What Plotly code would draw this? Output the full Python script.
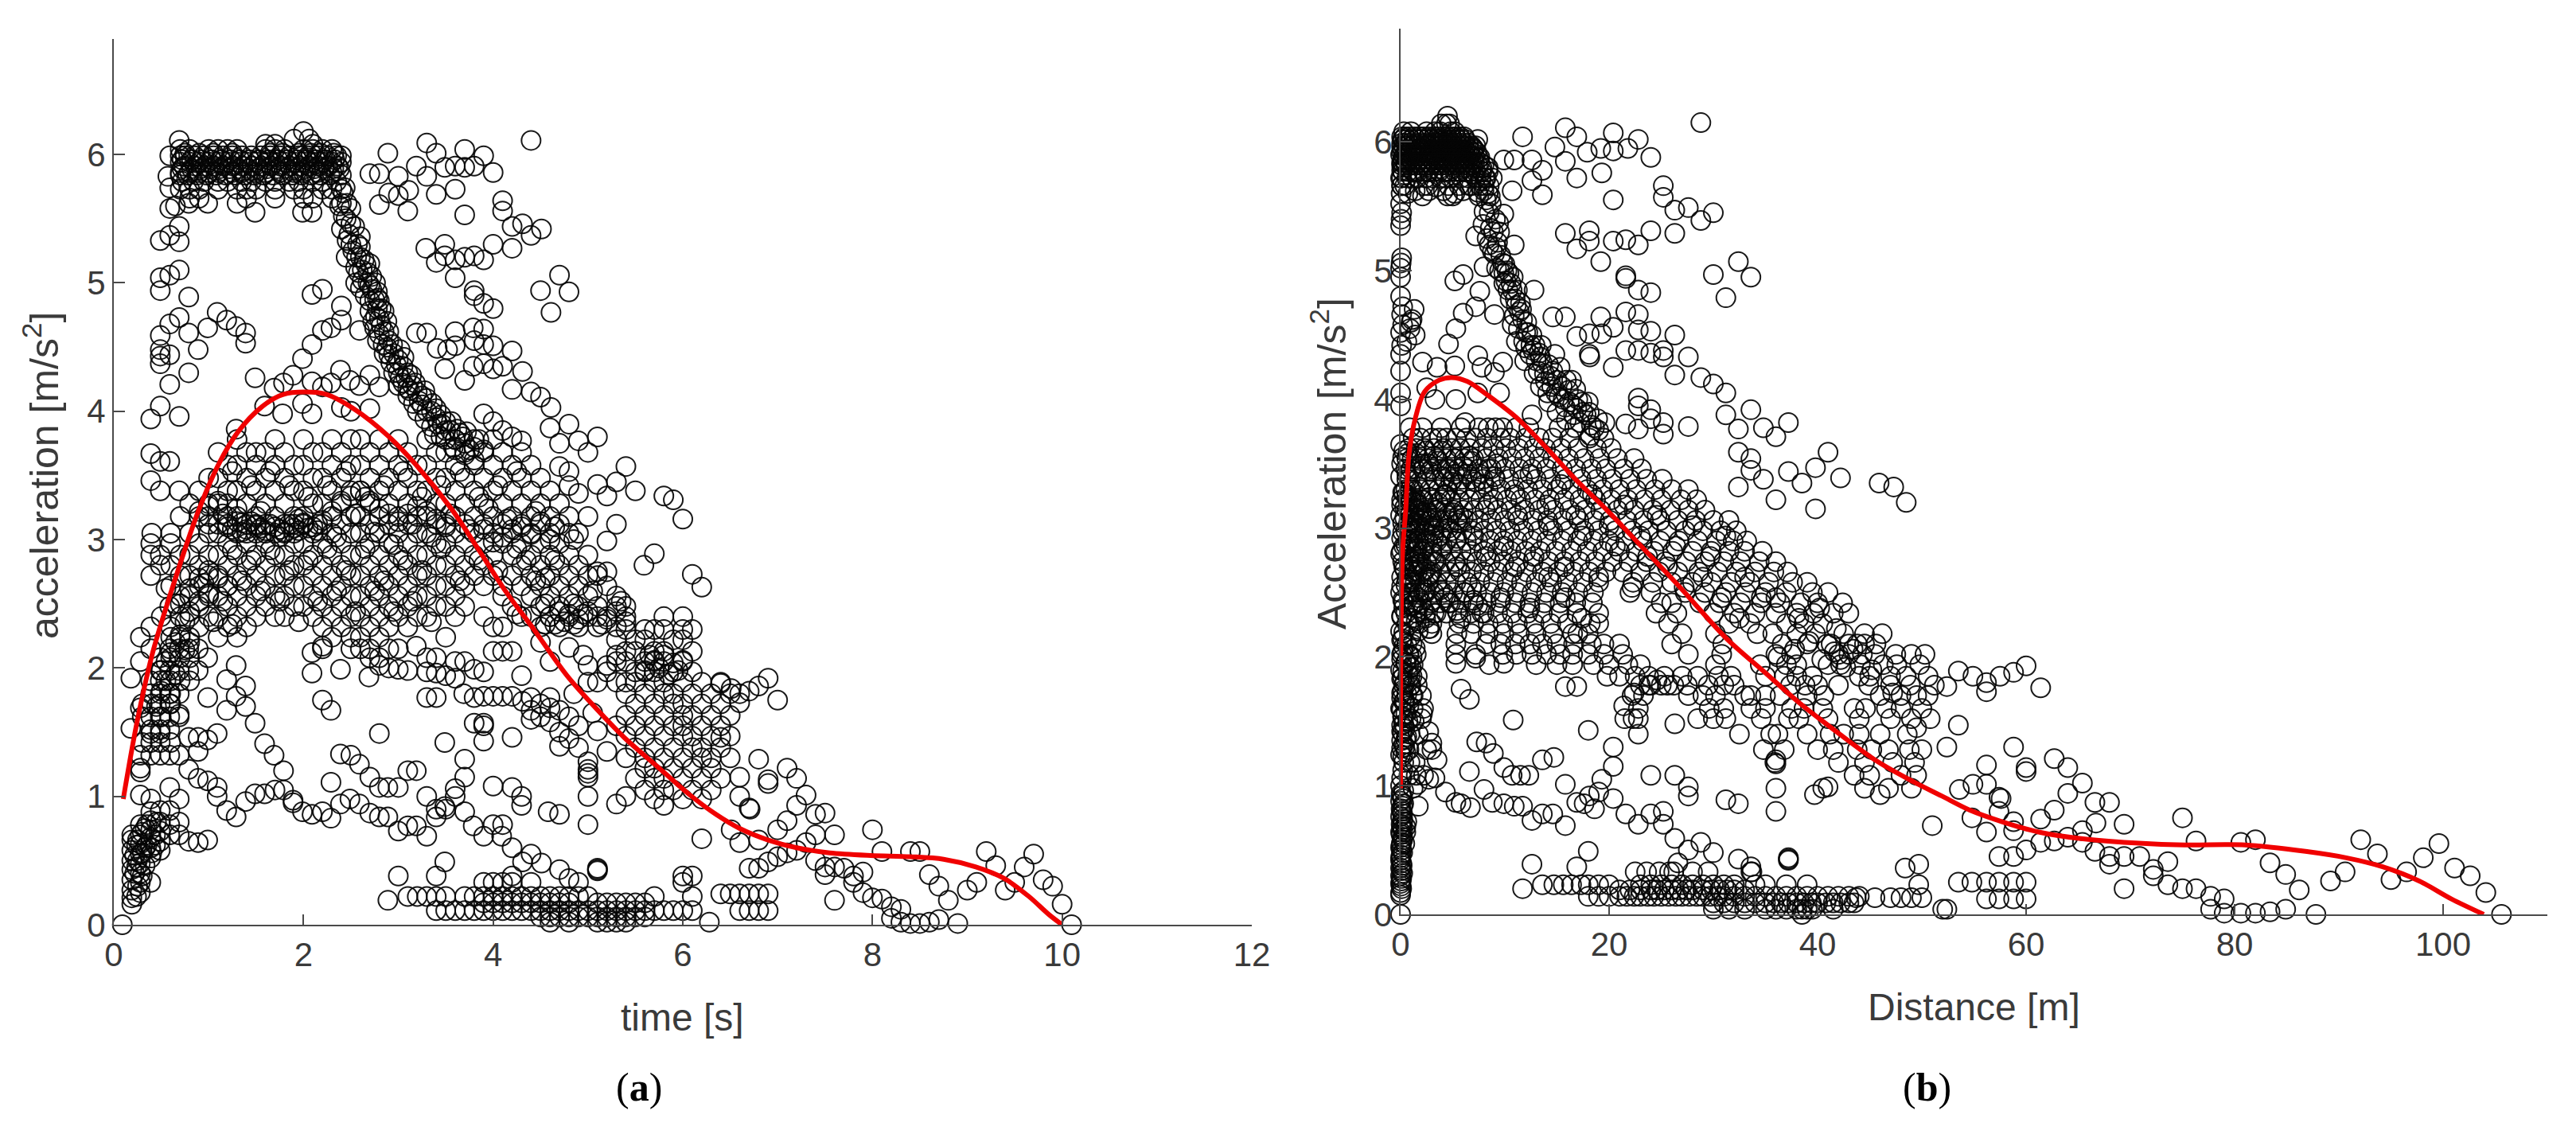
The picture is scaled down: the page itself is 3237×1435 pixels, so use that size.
import plotly.graph_objects as go

W, H = 3237, 1435

# ---------- panel (a): time [s] vs acceleration ----------
a_curve_t = [.1,.24,.41,.62,.88,1.1,1.31,1.57,1.78,2.02,2.25,2.55,2.89,3.19,3.56,3.84,4.13,4.43,4.78,5.08,5.38,5.72,6.06,6.35,6.6,6.9,7.2,7.55,7.98,8.4,8.75,9.09,9.39,9.65,9.86,10.0]
a_curve_y = [.98,1.56,2.12,2.63,3.2,3.58,3.84,4.04,4.13,4.15,4.13,4.01,3.81,3.58,3.24,2.93,2.6,2.3,1.94,1.69,1.46,1.24,1.02,.86,.75,.66,.6,.56,.54,.53,.51,.45,.36,.22,.08,0]

a_upper = [(.69,6.11),(.59,5.99),(.57,5.83),(.59,5.74),(.59,5.58),(.65,5.6),(.69,5.44),(.49,5.33),(.59,5.37),(.69,5.32),(.49,5.04),(.59,5.06),(.69,5.1),(.49,4.94),(.79,4.89),(.69,4.73),(.59,4.68),(.49,4.59),(.79,4.61),(.99,4.65),(1.09,4.77),(1.19,4.71),(1.29,4.66),(1.39,4.61),(1.39,4.53),(.89,4.48),(.49,4.48),(.59,4.44),(.49,4.43),(.49,4.37),(.79,4.3),(.59,4.21),(.49,4.04),(.39,3.94),(.69,3.96),(.39,3.67),(.49,3.61),(.59,3.61),(.39,3.46),(.49,3.38),(.69,3.38),
(2.4,5.99),(2.89,6.01),(3.3,6.09),(3.4,6.01),(3.19,5.91),(3.3,5.83),(3.49,5.9),(3.6,5.91),(3.7,6.04),(3.7,5.9),(3.8,5.91),(3.9,5.99),(4.0,5.86),(4.4,6.11),(2.7,5.85),(2.8,5.85),(3.0,5.83),(3.11,5.72),(3.0,5.68),(2.9,5.7),(2.8,5.61),(3.1,5.56),(3.4,5.69),(3.6,5.73),(3.7,5.53),(4.1,5.64),(4.1,5.56),(4.2,5.44),(4.31,5.46),(4.4,5.37),(4.51,5.42),(3.29,5.27),(3.49,5.3),(3.49,5.21),(3.4,5.16),(3.6,5.18),(3.7,5.2),(3.8,5.21),(3.9,5.18),(4.0,5.3),(4.2,5.27),(3.6,5.04),(3.8,4.94),(3.8,4.9),(3.9,4.84),(4.0,4.8),(4.7,5.06),(4.5,4.94),(4.8,4.93),(4.61,4.77),
(2.09,4.91),(2.2,4.95),(2.4,4.82),(2.59,4.63),(2.4,4.71),(2.29,4.65),(2.2,4.63),(2.09,4.52),(1.99,4.41),(1.49,4.26),(1.89,4.28),(1.79,4.22),(1.69,4.18),(1.59,4.04),(1.78,3.98),(1.99,4.06),(2.09,3.98),(2.09,4.23),(2.2,4.19),(2.29,4.22),(2.39,4.32),(2.49,4.24),(2.59,4.2),(2.7,4.28),(2.8,4.19),(2.4,4.03),(2.5,4.0),(2.7,4.02),(1.29,3.86),
(3.19,4.61),(3.3,4.61),(3.6,4.62),(3.79,4.65),(3.9,4.64),(3.41,4.49),(3.52,4.48),(3.6,4.51),(3.8,4.55),(3.9,4.52),(4.0,4.51),(4.2,4.47),(3.49,4.33),(3.7,4.24),(3.79,4.35),(3.9,4.37),(4.0,4.33),(4.1,4.35),(4.31,4.31),(4.2,4.17),(4.4,4.15),(4.5,4.11),(4.61,4.03),(3.9,3.98),(4.0,3.92),(4.1,3.85),(4.2,3.8),(4.3,3.77),(4.6,3.87),(4.8,3.9),(4.7,3.75),(4.9,3.77),(5.1,3.8),(5.0,3.68),(4.7,3.57),(4.8,3.53),(5.4,3.57),(5.3,3.45),(5.1,3.43),(5.5,3.38),(5.2,3.34),(4.9,3.36),(4.8,3.42),(5.8,3.34),(5.9,3.31)]

a_band = [(2.42,5.7),(2.38,5.6),(2.45,5.5),(2.4,5.42),(2.48,5.38),(2.52,5.25),(2.6,5.2),(2.45,5.2),(2.55,5.12),(2.62,5.1),(2.68,5.0),(2.55,5.0),(2.72,4.95),(2.65,4.9),(2.75,4.87),(2.78,4.8),(2.7,4.78),(2.85,4.78),(2.8,4.72),(2.75,4.65),(2.85,4.62),(2.78,4.55),(2.9,4.55),(2.95,4.45),(2.85,4.45),(3.0,4.4),(3.05,4.35),(2.95,4.3),(3.1,4.3),(3.05,4.22),(3.15,4.2),(3.0,4.2),(3.2,4.15),(3.1,4.12),(3.3,4.1),(3.25,4.05),(3.35,4.0),(3.2,4.0),(3.4,3.95),(3.5,3.92),(3.35,3.88),(3.55,3.85),(3.45,3.8),(3.6,3.78),(3.7,3.75),(3.6,3.7),
(2.46,5.62),(2.5,5.46),(2.5,5.3),(2.57,5.3),(2.62,5.02),(2.66,5.14),(2.72,5.05),(2.78,4.93),(2.8,4.86),(2.73,4.7),(2.82,4.67),(2.88,4.5),(2.92,4.38),(3.0,4.3),(3.08,4.26),(3.12,4.16),(3.25,4.12),(3.3,4.0),(3.42,3.9),(3.5,3.85),(3.65,3.83),(3.75,3.7),(3.45,3.97),(2.6,5.36),(2.7,5.15),
(2.44,5.74),(2.5,5.58),(2.42,5.52),(2.54,5.44),(2.46,5.33),(2.56,5.2),(2.6,5.28),(2.64,5.18),(2.58,5.08),(2.68,5.08),(2.7,4.98),(2.76,5.0),(2.6,4.96),(2.78,4.88),(2.7,4.86),(2.82,4.8),(2.76,4.74),(2.88,4.7),(2.8,4.6),(2.9,4.62),(2.84,4.52),(2.94,4.52),(2.9,4.44),(3.02,4.48),(2.98,4.36),(3.06,4.42),(3.14,4.28),(3.02,4.26),(3.18,4.22),(3.1,4.18),(3.22,4.08),(3.28,4.16),(3.16,4.06),(3.36,4.06),(3.28,3.94),(3.4,4.02),(3.46,3.9),(3.38,3.82),(3.56,3.92),(3.5,3.78),(3.62,3.86),(3.68,3.8),(3.58,3.72),(3.72,3.84),(3.8,3.72),(3.85,3.78),(3.7,3.66),(3.9,3.7),(3.8,3.62)]

a_top_rows = [(6.18,[2.0]),(6.12,[1.9,2.06]),(6.08,[1.6,1.7,2.1]),
 (6.04,[.7,.8,1.0,1.1,1.2,1.3,1.6,1.7,1.8,2.0,2.1,2.2,2.3]),
 (6.01,[.75,.9,1.05,1.25,1.65,1.78,1.95,2.08,2.18,2.32]),
 (5.99,[.7,.75,.85,.95,1.05,1.15,1.25,1.35,1.45,1.55,1.65,1.75,1.85,1.95,2.05,2.15,2.25,2.35]),
 (5.96,[.72,.82,.92,1.03,1.13,1.23,1.33,1.43,1.53,1.63,1.73,1.83,1.93,2.03,2.13,2.23,2.33]),
 (5.94,[.7,.8,.9,1.0,1.1,1.2,1.3,1.4,1.5,1.6,1.7,1.8,1.9,2.0,2.1,2.2,2.3,2.4]),
 (5.91,[.74,.86,.96,1.06,1.16,1.26,1.36,1.46,1.56,1.66,1.76,1.86,1.96,2.06,2.16,2.26,2.36]),
 (5.89,[.72,.82,.92,1.02,1.12,1.22,1.32,1.42,1.52,1.62,1.72,1.82,1.92,2.02,2.12,2.22,2.32,2.38]),
 (5.86,[.7,.8,.9,1.0,1.1,1.25,1.35,1.5,1.6,1.75,1.9,2.0,2.15,2.3]),
 (5.84,[.7,.78,.88,.98,1.08,1.18,1.28,1.38,1.48,1.58,1.68,1.78,1.88,1.98,2.08,2.18,2.28,2.4]),
 (5.79,[.72,.84,.95,1.1,1.2,1.35,1.45,1.6,1.7,1.85,1.95,2.1,2.2,2.35]),
 (5.73,[.7,.8,.9,1.1,1.3,1.4,1.5,1.7,1.9,2.0,2.2,2.3,2.4]),
 (5.66,[.8,.9,1.4,1.7,2.0,2.1,2.3]),(5.62,[.79,.99,1.3,2.4]),(5.55,[1.49,1.99,2.09])]

a_mid_rows = [(3.78,[1.3,1.7,2.0,2.3,2.5,2.6,2.8,3.0,3.3,3.6,3.8,4.0]),
 (3.68,[1.1,1.4,1.5,1.6,1.8,2.1,2.2,2.4,2.7,2.9,3.1,3.4,3.5,3.7,3.9,4.1,4.3]),
 (3.58,[1.2,1.3,1.5,1.7,1.9,2.0,2.3,2.5,2.6,2.8,3.0,3.2,3.3,3.6,3.8,4.0,4.2,4.4]),
 (3.48,[1.0,1.1,1.4,1.6,1.8,2.1,2.2,2.4,2.7,2.9,3.1,3.4,3.5,3.7,3.9,4.1,4.3,4.5]),
 (3.38,[.9,1.2,1.3,1.5,1.7,1.9,2.0,2.3,2.5,2.6,2.8,3.0,3.2,3.3,3.6,3.8,4.0,4.2,4.4,4.6]),
 (3.28,[.8,1.0,1.1,1.4,1.6,1.8,2.1,2.2,2.4,2.7,2.9,3.1,3.4,3.5,3.7,3.9,4.1,4.3,4.5,4.7]),
 (3.18,[.7,.9,1.0,1.2,1.3,1.5,1.7,1.9,2.0,2.3,2.5,2.6,2.8,3.0,3.2,3.3,3.6,3.8,4.0,4.2,4.4,4.6,4.8]),
 (3.12,[1.0,1.1,1.2,1.4,1.5,1.6,1.8,1.9,2.0,2.2,2.4,2.7,2.9,3.1,3.4,3.5,3.7,3.9,4.1,4.3,4.5,4.7]),
 (3.05,[.4,.6,.8,1.0,1.1,1.3,1.4,1.5,1.6,1.7,1.8,1.9,2.1,2.3,2.5,2.6,2.8,3.0,3.2,3.3,3.6,3.8,4.0,4.2,4.4,4.6,4.8,4.9]),
 (2.97,[.39,.6,.9,1.2,1.4,1.6,1.9,2.0,2.2,2.4,2.7,2.9,3.1,3.4,3.5,3.7,3.9,4.1,4.3,4.5,4.7]),
 (2.88,[.39,.49,.7,.8,1.0,1.1,1.3,1.5,1.7,1.8,2.1,2.3,2.5,2.6,2.8,3.0,3.2,3.3,3.6,3.8,4.0,4.2,4.4,4.6,4.8,5.0]),
 (2.8,[.49,.6,.9,1.2,1.4,1.6,1.9,2.0,2.2,2.4,2.7,2.9,3.1,3.4,3.5,3.7,3.9,4.3,4.5,4.7,4.9]),
 (2.72,[.39,.7,.8,1.0,1.1,1.3,1.5,1.7,1.8,2.1,2.3,2.5,2.6,2.8,3.0,3.2,3.3,3.6,3.8,4.0,4.2,4.4,4.6,4.8,5.0,5.1]),
 (2.64,[.6,.9,1.2,1.4,1.6,1.9,2.0,2.2,2.4,2.7,2.9,3.1,3.4,3.5,3.7,3.9,4.1,4.3,4.5,4.7,4.9,5.2]),
 (2.56,[.7,.8,1.0,1.1,1.3,1.5,1.7,1.8,2.1,2.3,2.5,2.6,2.8,3.0,3.2,3.3,3.6,4.1,4.4,4.6,4.8,5.0,5.3]),
 (2.48,[.59,.9,1.2,1.4,1.6,1.9,2.0,2.2,2.4,2.7,2.9,3.1,3.4,3.5,3.7,4.2,4.5,4.7,4.9,5.1,5.3,5.4]),
 (2.4,[.5,.7,.8,1.0,1.1,1.3,1.5,1.7,1.8,2.1,2.3,2.5,2.6,2.8,3.0,3.2,3.3,3.6,3.9,4.3,4.4,4.6,4.8,5.0,5.2,5.4]),
 (2.32,[.39,.6,.9,1.2,1.4,2.2,2.4,2.7,2.9,3.1,4.0,4.1,4.5,4.7,4.9,5.1,5.3]),
 (2.24,[.28,.6,.7,.8,1.1,1.3,2.3,2.5,2.6,2.8,3.5]),
 (2.15,[.39,.59,.69,.79,.89,2.2,2.5,2.6,2.7,2.9,3.0]),
 (2.08,[.49,.6,.7,.8,.99,2.7,2.8,3.3,3.4]),
 (1.98,[.49,.59,.69,.79,.89]),(1.9,[.39,.49,.6,.7,.8]),(1.8,[.39,.49,.59,.69]),(1.72,[.3,.4,.49,.6]),(1.62,[.3,.39,.49,.59,.69]),
 (1.52,[.39,.49,.59]),(1.42,[.3,.39,.49,.6]),(1.32,[.28,.39,.49,.59])]

# extra hand-read circles in the dense middle, off the rows above
a_mid_extra = [(1.15,3.2),(1.35,3.13),(1.55,3.22),(1.75,3.02),(1.95,3.16),(2.15,3.07),(1.25,2.92),(1.45,2.84),(1.65,2.92),(1.85,2.76),(2.05,2.84),(2.25,2.93),(2.45,2.76),(2.65,2.93),(2.85,2.68),(3.05,2.84),(3.25,2.76),(3.45,2.93),(3.65,2.68),(3.85,2.84),(4.05,2.76),(4.25,2.93),(4.45,2.68),(4.65,2.84),(4.85,2.5),(.95,2.66),(1.15,2.52),(1.35,2.68),(1.55,2.6),(1.75,2.52),(1.95,2.36),(2.15,2.52),(2.35,2.6),(2.55,2.44),(2.75,2.6),(2.95,2.44),(3.15,2.52),(3.35,2.36),(.75,2.36),(.65,2.5),(.55,2.62),(1.05,2.36),(1.25,2.34),
 (1.25,3.53),(1.45,3.42),(1.65,3.53),(1.85,3.42),(2.05,3.33),(2.25,3.42),(2.45,3.53),(2.65,3.33),(2.85,3.42),(3.05,3.53),(3.25,3.33),(3.45,3.42),(3.65,3.53),(3.85,3.33),(4.05,3.42),(4.25,3.53),(4.45,3.22),(4.15,3.16),(3.95,3.24),(3.75,3.08),(3.55,3.2),(3.35,3.02),(3.15,3.12),(2.95,2.96),(2.75,3.06),(2.55,3.2),(2.35,3.02),
 (4.35,2.84),(4.55,2.5),(4.75,2.36),(4.95,2.42),(5.15,2.34),(5.35,2.52),(5.05,2.6),(4.25,2.42),(4.55,2.7),(4.85,3.0),(4.65,3.1)]

# dark streaks inside the dense middle
a_dark = [(1.2,3.1),(1.3,3.14),(1.4,3.08),(1.5,3.11),(1.6,3.07),(1.7,3.1),(1.8,3.06),(1.9,3.09),(2.0,3.13),(2.1,3.1),(2.2,3.15),(1.25,3.08),(1.35,3.06),(1.45,3.14),(1.55,3.09),(1.65,3.12),(1.75,3.08),(1.85,3.12),(1.95,3.07),(2.05,3.09),(2.15,3.12),
 (.9,3.22),(1.0,3.26),(1.1,3.3),(1.2,3.28),(1.3,3.24),(2.3,3.22),(2.4,3.3),(2.5,3.34),(2.6,3.38),(2.7,3.3),(2.8,3.24),(2.9,3.2),(3.0,3.14),(3.1,3.2),(3.2,3.26),(3.3,3.22),(3.4,3.16),(3.5,3.1),
 (.8,2.62),(.9,2.7),(1.0,2.76),(1.1,2.7),(1.2,2.64),(.7,2.5),(.8,2.44),(.9,2.52),(1.0,2.58),
 (.5,1.98),(.55,2.05),(.6,2.12),(.65,2.2),(.7,2.26),(.75,2.14),(.8,2.2),(.5,1.82),(.55,1.9),(.45,1.7),(.5,1.62),(.6,1.8),(.65,1.95),
 (4.3,3.1),(4.4,3.04),(4.5,3.14),(4.6,3.0),(4.0,2.98),(4.1,3.02),(4.2,3.08),(3.9,3.08),
 (4.6,2.4),(4.7,2.44),(4.8,2.42),(4.9,2.38),(5.0,2.44),(5.1,2.4),(5.2,2.38),(5.3,2.44),(5.4,2.36),(4.55,2.34),(4.65,2.34),(4.85,2.34),
 (5.7,2.06),(5.75,2.0),(5.8,2.1),(5.85,1.95),(5.9,2.04),(5.95,1.98),(6.0,2.06),(5.6,1.98),(5.65,2.1),
 (.25,.5),(.3,.56),(.35,.62),(.25,.66),(.3,.72),(.35,.78),(.25,.3),(.3,.38),(.24,.22),(.33,.46),(.4,.56),(.45,.8),(.44,.62),(.22,.4),(.22,.54)]

a_lobe_rows = [(2.3,[5.4,5.6,5.7,5.8,6.0,6.1]),(2.22,[5.3,5.5,5.6,5.9,6.0]),(2.13,[5.4,5.5,5.7,5.8,6.1]),
 (2.05,[5.3,5.4,5.6,5.7,5.8,6.0]),(1.97,[5.2,5.5,5.6,5.7,5.9,6.1]),(1.89,[5.3,5.4,5.5,5.7,5.8,6.0,6.2,6.4]),
 (1.8,[5.4,5.6,5.8,5.9,6.1,6.3,6.5,6.6]),(1.72,[5.5,5.7,5.9,6.0,6.2,6.4]),(1.63,[5.4,5.6,5.8,6.0,6.1,6.3,6.5]),
 (1.55,[5.3,5.5,5.7,5.9,6.0,6.2,6.4]),(1.47,[5.4,5.6,5.8,6.0,6.1,6.3,6.5]),(1.38,[5.5,5.7,5.9,6.1,6.2,6.4]),
 (1.3,[5.4,5.6,5.8,6.0,6.2,6.3,6.5]),(1.22,[5.6,5.7,5.9,6.1,6.3]),(1.14,[5.5,5.7,5.8,6.0,6.2,6.4]),(1.05,[5.6,5.8,5.9,6.1,6.3]),(.98,[5.7,6.0,6.2])]

a_lower = [(.09,0),(.19,.16),(.19,.21),(.19,.27),(.19,.35),(.19,.43),(.19,.5),(.19,.58),(.19,.66),(.19,.7),(.28,.25),(.28,.33),(.28,.4),(.28,.48),(.28,.55),(.28,.63),(.28,.7),(.28,.78),(.39,.33),(.39,.52),(.39,.6),(.39,.68),(.39,.74),(.39,.81),(.39,.88),(.49,.58),(.49,.65),(.49,.73),(.49,.8),(.49,.89),(.59,.7),(.59,.78),(.59,.89),(.69,.98),(.69,.8),(.28,1.01),(.39,.98),(.59,1.07),(.24,.45),(.33,.6),(.33,.75),(.24,.62),(.44,.7),
 (.69,.7),(.79,.65),(.89,.64),(.99,.66),
 (.79,1.21),(.89,1.14),(.99,1.12),(1.09,1.07),(1.09,1.0),(1.19,.89),(1.29,.84),(1.39,.96),(1.49,1.02),(1.59,1.02),(1.7,1.05),(1.79,1.05),(1.89,.97),(1.89,.95),(1.99,.88),(2.09,.86),(2.2,.88),(2.29,.83),(2.39,.94),(2.49,.98),(2.59,.94),(2.7,.87),(2.8,.84),(2.89,.84),(3.0,.73),(3.1,.77),(3.19,.77),(3.3,.69),(3.4,.84),(3.49,.92),(3.5,.9),(3.7,.88),(3.79,.77),(3.9,.69),(4.0,.78),(4.1,.78),(4.09,.69),(4.2,.6),(4.31,.49),(4.4,.55),(4.51,.48),(4.7,.43),(4.8,.36),
 (1.49,1.57),(1.59,1.41),(1.69,1.32),(1.79,1.2),(1.39,1.7),(1.19,1.67),(1.29,1.78),(1.39,1.86),(1.19,1.91),(1.29,2.02),(.99,1.77),(1.09,1.49),(.99,1.44),(.89,1.46),(.79,1.46),(.89,1.35),(.69,1.32),(.28,1.19),(.28,1.22),(.39,1.49),(.49,1.49),(.69,1.64),(.59,1.72),(.18,1.53),(.18,1.92),(.28,2.05),(.28,1.69),
 (2.29,1.67),(2.2,1.75),(2.8,1.49),(2.39,1.33),(2.5,1.32),(2.59,1.25),(2.7,1.15),(2.8,1.07),(2.89,1.07),(3.0,1.07),(3.1,1.2),(3.19,1.2),(2.29,1.11),(3.3,1.0),(3.49,1.42),(3.7,1.29),(3.7,1.15),(3.6,1.06),(3.6,1.0),(3.4,.9),(4.0,1.08),(4.2,1.07),(4.3,1.0),(4.3,.93),(4.58,.88),(4.7,.86),(5.0,.78),(5.0,1.0),(5.0,1.15),(5.0,1.21),(5.0,1.18),(5.1,.43),(5.1,.42),(5.1,.44),(5.4,1.0),(5.3,.94),(5.8,.93),(6.2,.67),
 (2.09,1.96),(2.39,1.99),(2.09,2.12),(2.2,2.17),(2.69,1.93),(2.8,2.02),(2.9,2.0),(3.0,1.99),(3.1,1.98),(3.19,2.17),(3.3,1.97),(3.4,1.96),(3.5,1.94),(3.6,2.05),(3.7,2.05),(3.8,1.99),(3.9,1.97),(4.0,2.13),(4.1,2.13),(4.2,2.13),(4.3,1.94),(3.3,1.77),(3.4,1.77),(3.6,1.92),(3.69,1.8),(3.8,1.77),(3.9,1.78),(4.0,1.78),(4.1,1.78),(4.2,1.78),(4.31,1.74),(4.4,1.67),(4.5,1.62),(4.6,1.77),(4.6,1.69),(4.7,1.67),(4.8,1.62),(3.8,1.57),(3.9,1.57),(3.9,1.55),(3.9,1.43),(4.2,1.46),(4.7,1.39),(4.9,1.38),(5.0,1.27),(4.8,1.45),(5.1,1.51),(5.2,1.35),(4.6,2.05),(4.5,2.2),(4.8,2.16),(5.0,2.02),(5.2,2.02),(5.0,1.89),(5.1,1.89),(5.8,2.4),(6.0,2.4),(5.1,2.75),(5.2,2.75),(5.2,2.99),(5.3,3.12),(5.0,3.18),(5.59,2.8),(5.7,2.89),(6.1,2.73),(6.2,2.63),(6.0,3.16),
 (4.4,1.6),(4.5,1.72),(4.4,1.77),(4.6,1.58),(4.7,1.5),(4.9,1.55),(5.05,1.65),(4.85,1.8),(4.95,2.1),(5.3,2.1)]

a_tail = [(6.9,1.92),(7.0,1.75),(6.8,1.86),(6.7,1.82),(6.6,1.73),(6.51,1.84),(6.4,1.88),(6.4,1.46),(6.8,1.29),(7.1,1.22),(7.2,1.14),(6.9,1.13),(6.9,1.1),(7.3,1.01),(7.2,.93),(7.4,.86),(7.5,.87),(7.1,.81),(7.0,.74),(7.6,.7),(7.4,.7),(7.3,.64),(7.2,.58),(7.1,.56),(7.0,.53),(6.9,.49),(6.8,.44),(6.7,.44),(6.6,1.15),(6.7,.91),(6.71,.9),(6.6,1.0),(6.6,.64),(6.51,.74),(6.8,.66),(7.4,.5),(7.5,.45),(7.5,.39),(7.6,.45),(7.6,.19),(7.7,.44),(7.8,.38),(7.8,.33),(7.9,.41),(7.9,.25),(8.0,.74),(8.0,.21),(8.1,.57),(8.1,.2),(8.2,.14),(8.2,.05),(8.3,.02),(8.3,.12),(8.4,.57),(8.4,.01),(8.5,.57),(8.5,.01),(8.6,.39),(8.6,.02),(8.7,.3),(8.7,.04),(8.8,.19),(8.9,.01),(9.0,.27),(9.1,.33),(9.2,.57),(9.3,.46),(9.4,.27),(9.5,.33),(9.6,.45),(9.7,.55),(9.8,.35),(9.9,.3),(10.0,.16),(10.1,0)]

a_bottom_rows = [(.24,[6.4,6.5,6.6,6.7,6.8,6.9]),(.11,[6.6,6.7,6.8,6.9]),
 (.22,[3.1,3.2,3.3,3.4,3.5,3.7,3.8,3.9,4.0,4.1,4.2,4.3,4.4,4.5,4.6,4.7,4.8,4.9,5.0,5.7,6.1]),
 (.17,[3.9,4.0,4.1,4.2,4.3,4.4,4.5,4.6,4.7,4.8,5.1,5.2,5.3,5.4,5.5,5.6]),
 (.11,[3.4,3.5,3.6,3.7,3.8,3.9,4.0,4.1,4.2,4.3,4.4,4.5,4.6,4.7,4.8,4.9,5.0,5.1,5.2,5.3,5.4,5.5,5.6,5.7,5.8,5.9,6.0,6.1]),
 (.06,[4.5,4.6,4.7,4.8,4.9,5.0,5.1,5.2,5.3,5.4,5.5,5.6]),(.02,[4.6,4.8,5.1,5.2,5.3,5.4,6.28]),
 (.33,[3.9,4.0,4.1,4.2,4.4,4.9,6.0]),(.38,[3.0,3.4,4.2,6.0,6.1]),(.49,[3.49]),(.19,[2.89])]

# ---------- panel (b): distance [m] vs acceleration ----------
b_curve_x = [0,0,.04,.2,.5,.8,1.4,2.3,3.7,4.9,6.4,8.4,11.1,13.8,16.9,19.8,23.2,26.7,31.3,34.8,38.3,41.8,45.7,49.2,51.9,54.6,57.7,61.2,65.1,69.4,75.2,81,86.8,90.7,94.2,97.7,100.8,103.9]
b_curve_y = [.98,1.58,2.2,2.83,3.15,3.57,3.85,4.06,4.15,4.17,4.14,4.03,3.86,3.64,3.37,3.14,2.85,2.55,2.14,1.89,1.64,1.42,1.19,1.03,.92,.81,.72,.64,.59,.56,.54,.54,.49,.44,.37,.26,.12,0]

b_upper = [(28.8,6.15),(11.7,6.04),(15.8,6.11),(16.9,6.04),(20.4,6.07),(22.8,6.02),(21.8,5.95),(20.4,5.93),(19.2,5.95),(17.9,5.92),(14.8,5.96),(15.8,5.85),(24,5.88),(19.3,5.76),(16.9,5.72),(13.6,5.78),(12.6,5.86),(9.9,5.86),(10.9,5.86),(13.6,5.59),(12.6,5.7),(10.7,5.62),(20.4,5.55),(25.2,5.66),(25.2,5.57),(26.3,5.47),(27.6,5.49),(28.8,5.39),(30,5.45),(26.3,5.29),(24,5.31),(15.8,5.29),(18.1,5.31),(16.9,5.17),(18.1,5.23),(20.4,5.23),(21.6,5.24),(22.8,5.2),(19.2,5.07),(21.6,4.94),(21.6,4.96),(22.8,4.85),(24,4.83),(32.4,5.07),(30,4.97),(33.6,4.95),(31.2,4.79),
 (6,4.97),(5.2,4.92),(7.6,4.84),(7.2,4.72),(6,4.67),(5.3,4.55),(4.6,4.43),(9,4.66),(2.1,4.29),(3.5,4.25),(5.2,4.26),(7.4,4.34),(9.8,4.29),(9,4.21),(7.8,4.25),(2.5,4.09),(3.3,4.0),(5.3,4.0),(7.4,4.05),(9.5,4.05),(6.2,3.82),(12.6,3.88),(14.6,4.64),(15.8,4.64),(19.2,4.64),(21.6,4.68),(22.8,4.66),(16.9,4.49),(18.1,4.51),(19.3,4.51),(20.4,4.56),(22.8,4.54),(24,4.53),(26.3,4.5),(18.1,4.35),(18.15,4.33),(21.6,4.38),(22.8,4.38),(24,4.36),(25.2,4.38),(25.2,4.33),(20.4,4.25),(27.6,4.33),(26.3,4.19),(28.8,4.17),(30,4.12),(31.2,4.05),(31.2,3.88),(33.6,3.92),(32.4,3.77),(34.8,3.78),(36,3.71),(37.2,3.82),(27.6,3.79),(32.4,3.59),(33.6,3.54),(41,3.59),(39.8,3.47),(42.2,3.39),(37.2,3.44),(38.5,3.35),(34.8,3.38),(45.9,3.35),(47.3,3.32),(32.4,3.32),(33.6,3.45),(48.5,3.2),(39.8,3.15),(36,3.22),
 (22.8,4.01),(24,3.92),(25.2,3.82),(25.2,3.73),(22.8,3.77),(21.6,3.81),(22.8,3.95),(24,3.85)]

b_band = [(7.4,5.61),(8,5.46),(8.6,5.33),(7.2,5.27),(9,5.13),(9.9,5.44),(10.9,5.2),(8,5.03),(9.9,4.98),(10.3,4.85),(12.8,4.85),(11.1,4.73),(10.7,4.58),(11.8,4.45),(12.6,4.5),(13.4,4.33),(14.2,4.27),(15,4.15),(16.1,4.07),(16.5,3.96),(18.1,3.9),(18.9,3.85),
 (7.7,5.7),(8.2,5.55),(8.5,5.45),(8.9,5.3),(9.3,5.22),(9.6,5.12),(9.2,5.02),(10,5.05),(10.4,4.98),(10.6,4.9),(11.2,4.85),(11.5,4.75),(10.9,4.65),(11.7,4.62),(12.2,4.52),(12,4.4),(12.9,4.42),(13.2,4.22),(13.8,4.2),(14.5,4.1),(15.3,4.25),(15.6,4.0),(16.4,4.15),(17,4.0),(17.5,3.9),(17.2,3.82),(18.3,3.8),(13.5,4.42),(14.8,4.35),(9.5,5.3),(8.8,5.15),(9.9,4.9),(10.5,4.78),(11.3,4.55),(12.4,4.35),(14.1,4.05),(15.9,4.15),(16.8,4.08),(18,3.98),
 (8.0,5.62),(8.4,5.6),(8.7,5.52),(9.1,5.4),(9.4,5.37),(8.3,5.25),(9.5,5.0),(10.2,5.0),(10.8,4.95),(11.0,4.78),(11.6,4.7),(12.1,4.6),(12.5,4.42),(13.0,4.3),(13.6,4.28),(14.4,4.18),(14.9,4.05),(15.5,4.1),(16.2,3.98),(16.9,3.93),(17.8,3.88),(18.6,3.78),
 (7.9,5.36),(8.5,5.2),(9.2,5.18),(9.8,5.06),(10.1,4.92),(10.7,4.85),(11.4,4.68),(12.0,4.52),(12.7,4.38),(13.3,4.36),(13.9,4.14),(14.6,4.22),(15.2,4.02),(15.8,3.94),(16.6,3.88),(17.4,3.98),(18.2,3.72),(19.0,3.76),(19.6,3.82),(11.1,4.45),(11.9,4.3),(12.8,4.2),(13.4,4.1),(14.2,3.98),(15.0,3.9),(15.9,3.84),(16.7,3.78)]

b_col_y = [.15,.2,.24,.28,.32,.36,.4,.44,.48,.52,.56,.6,.64,.68,.72,.76,.8,.84,.88,.92,.96,1.0,1.06,1.12,1.18,1.24,1.3,1.36,1.42,1.48,1.54,1.6,1.66,1.72,1.78,1.84,1.9,1.96,2.02,2.08,2.14,2.2,2.26,2.32,2.38,2.44,2.5,2.56,2.62,2.68,2.74,2.8,2.86,2.92,2.98,3.04,3.1,3.16,3.22,3.28,3.4,3.5,3.55,3.65,3.95,4.05,4.22,4.35,4.42,4.52,4.58,4.66,4.72,4.8,4.95,5.02,5.06,5.1,5.35,5.4,5.45,5.52,5.6,5.66,5.72,5.78,5.84,5.9,5.96,6.02,6.08]
b_col_x = [0,.1,0,.1,.2,0,.1,0,.2,0,.1,.2,0,.1,.2,0,.1,.2,0,.1,.3,0,.1,.2,.3,0,.4,.5,.1,.3,.2,0,.4,.1,.3,.2,0,.5,.1,.3,.2,0,.6,.1,.3,.2,0,.5,.1,.4,.2,0,.3,.1,.5,.2,0,.4,.1,.3,0,.1,.2,0,0,0,0,0,.1,0,.2,.1,.2,0,0,0,.05,.1,0,.05,.1,0,.05,.1,0,.1,.2,0,.1,.2,.3]
b_col2_y = [.17,.22,.26,.3,.34,.38,.42,.46,.5,.54,.58,.62,.66,.7,.74,.78,.82,.86,.9,.94,.68,.55,.72,.64,2.6,2.7,2.9,3.0,3.1,3.2,3.3,3.42,3.58,3.6,2.5,2.4,2.3,2.1,2.0,1.85,1.7,1.5,4.45,4.55,4.62,4.7,4.5,4.6]
b_col2_x = [0,.05,.05,0,.1,.15,0,.05,.1,.05,.2,.05,.2,.05,.2,.2,.05,.3,.2,.05,.5,.4,.6,.5,.8,1.1,.9,1.2,.9,1.3,.9,.6,.7,.3,.9,1.0,1.1,1.1,1.1,1.1,1.2,1.3,.6,.9,1.1,1.3,1.4,1.0]
# the near-solid black column and its shoulder (a = 1.2 ... 3.3)
b_col3_y = [3.28,3.25,3.22,3.2,3.18,3.15,3.12,3.1,3.08,3.05,3.02,3.0,2.97,2.95,2.92,2.9,2.87,2.84,2.82,2.79,2.76,2.73,2.7,2.67,2.64,2.61,2.58,2.55,2.52,2.49,2.46,2.43,2.4,2.37,2.34,2.31,2.28,2.25,2.22,2.19,2.16,2.13,2.1,2.07,2.04,2.01,1.98,1.95,1.92,1.89,1.86,1.83,1.8,1.77,1.74,1.71,1.68,1.65,1.62,1.59,1.56,1.53,1.5,1.47,1.44,1.41,1.38,1.35,1.32,1.29,1.26,1.23]
b_col3_x = [.2,.6,1.0,1.5,.1,.8,2.0,1.3,.4,2.6,.7,1.8,.2,3.2,1.1,2.3,.5,1.6,.1,3.0,.9,2.0,.3,1.4,2.8,.6,1.1,.1,2.4,.8,1.7,.3,1.2,2.2,.5,.1,1.5,.8,2.7,.3,1.0,.1,.6,1.4,.2,.8,.1,.5,1.0,.2,.7,.1,.4,.9,.2,.6,.1,.3,.8,.1,.5,.2,.7,.1,.4,.2,.6,.1,.3,.1,.5,.2]
b_dark = [(1.5,3.15),(2.0,3.1),(2.5,3.12),(3.0,3.08),(3.5,3.14),(4.0,3.06),(4.5,3.1),(5.0,3.12),(5.5,3.04),(6.0,3.08),(1.8,3.02),(2.4,2.96),(3.2,3.02),(3.8,2.94),(4.6,3.0),(5.4,2.92),(2.0,3.22),(2.8,3.24),(3.6,3.2),(4.3,3.26),(1.5,2.9),(2.2,2.84),(3.0,2.88),(1.7,2.72),(2.4,2.68),(3.2,2.74),
 (2.0,3.5),(2.8,3.44),(3.6,3.52),(4.4,3.46),(5.2,3.54),(6.0,3.48),(6.8,3.52),(7.6,3.42),(8.4,3.46),(9.0,3.4),(2.4,3.6),(3.2,3.56),(4.0,3.4),(4.8,3.36),(5.6,3.34),(6.4,3.42),(7.2,3.36),
 (2.2,2.5),(3.0,2.44),(3.8,2.52),(4.6,2.42),(5.4,2.36),(6.2,2.5),(7.0,2.44),(7.8,2.34),(1.7,2.2),(2.4,2.3),(3.2,2.34),
 (36.2,2.0),(37.8,2.06),(39.2,2.12),(40.4,1.98),(41.6,2.04),(42.7,1.92),(43.4,2.06),(44.1,1.94),(42.2,1.98),(40.9,2.1),(22.4,1.72),(23.8,1.78),(24.6,1.82),(25.6,1.78),(21.4,1.62),(22.3,1.52),
 (7,5.95),(7.6,5.88),(8.1,5.72),(8.5,5.66),(7.8,5.8),(7,5.75),(8.4,5.8),(6.6,5.66),(6,5.62),(5.2,5.6),(4.1,5.62),(3.4,5.65),(2.7,5.62),(1.4,5.62),(.7,5.6)]

b_top_rows = [(6.2,[4.5]),(6.14,[3.9,4.4,4.7]),(6.08,[1.0,2.5,3.3,3.8,4.8,5.2]),
 (6.04,[.1,.4,.8,1.3,1.8,2.2,2.7,3.2,3.6,4.1,4.5,4.9,5.3,5.7,6.1]),
 (6.02,[.2,.6,1.0,1.5,2.0,2.5,3.0,3.4,3.8,4.2,4.6,5.0,5.4,5.8,6.2,7.4]),
 (5.99,[.1,.5,.9,1.4,1.9,2.4,2.8,3.3,3.7,4.1,4.5,4.9,5.3,5.7,6.1,6.5]),
 (5.97,[.3,.7,1.1,1.6,2.1,2.6,3.1,3.5,3.9,4.3,4.7,5.1,5.5,5.9,6.3,6.8,7.2]),
 (5.94,[.2,.6,1.0,1.5,2.0,2.5,3.0,3.4,3.8,4.2,4.6,5.0,5.4,5.8,6.2,6.6,7.0]),
 (5.92,[.1,.5,.9,1.3,1.8,2.3,2.8,3.2,3.6,4.0,4.4,4.8,5.2,5.6,6.0,6.4,6.9,7.3]),
 (5.89,[.3,.7,1.2,1.7,2.2,2.7,3.1,3.5,3.9,4.3,4.7,5.1,5.5,5.9,6.3,6.7,7.1]),
 (5.87,[.2,.6,1.0,1.4,1.9,2.4,2.9,3.3,3.7,4.1,4.5,4.9,5.3,5.7,6.1,6.5,7.0,7.5]),
 (5.84,[.1,.5,1.1,1.6,2.1,2.6,3.2,3.6,4.1,4.6,5.1,5.6,6.1,6.6,7.1,7.6]),
 (5.82,[.1,.5,.9,1.4,1.9,2.4,2.9,3.4,3.9,4.4,4.9,5.4,5.9,6.4,6.9,7.4,8.0]),
 (5.77,[.2,.7,1.2,1.7,2.2,2.7,3.2,3.7,4.2,4.7,5.2,5.7,6.2,6.7,7.2,7.8,8.4]),
 (5.72,[.1,.6,1.1,1.6,2.4,3.1,3.8,4.3,4.8,5.8,6.5,7.2,7.7,8.2,8.8]),
 (5.66,[.1,.4,2.2,2.6,4.6,5.6,6.8,7.6,8.0]),(5.58,[2.1,4.5,5.0,7.5,8.6])]

b_mid_rows = [(3.78,[.9,2.1,3.9,5.8,7.5,8.4,9.1,9.8,11.1,12.3,15.2]),
 (3.7,[1.2,1.9,3.0,3.7,4.4,5.3,6.3,7.2,8.3,9.6,10.5,12.0,13.3,14.6,16.2,18.1,19.5]),
 (3.62,[.8,1.5,2.3,3.2,4.1,4.9,5.7,6.6,7.8,8.9,10.1,11.3,12.8,13.9,15.4,17.0,18.8,20.2]),
 (3.54,[.6,1.1,1.8,2.6,3.5,4.4,5.2,6.1,7.0,8.2,9.4,10.7,11.9,13.3,14.6,16.1,17.6,19.1,20.8,22.4]),
 (3.46,[.5,1.0,1.4,2.2,3.0,3.9,4.7,5.5,6.4,7.5,8.7,10.0,11.4,12.6,14.0,15.5,16.8,18.3,19.7,21.4,23.1]),
 (3.38,[.6,.9,1.6,2.5,3.3,4.2,5.0,5.9,6.8,7.9,9.1,10.4,11.7,13.0,14.4,15.8,17.3,18.8,20.3,22.0,23.6,25.1]),
 (3.3,[.5,1.2,1.9,2.8,3.6,4.5,5.4,6.2,7.2,8.4,9.6,10.9,12.2,13.6,15.0,16.4,17.9,19.4,21.0,22.6,24.4,26.0,27.6]),
 (3.22,[.7,1.0,1.5,2.2,3.1,3.9,4.8,5.6,6.6,7.7,8.9,10.2,11.5,12.9,14.3,15.7,17.2,18.7,20.2,21.8,23.4,25.0,26.9,28.4]),
 (3.14,[.6,1.3,1.8,2.5,3.4,4.3,5.1,6.0,7.0,8.1,9.3,10.6,11.9,13.3,14.7,16.2,17.7,19.2,20.8,22.4,24.2,25.9,27.6,29.2]),
 (3.06,[.8,1.1,1.6,2.0,2.9,3.7,4.6,5.4,6.4,7.5,8.7,10.0,11.3,12.7,14.1,15.6,17.1,18.6,20.1,21.7,23.3,24.9,26.6,28.3,30.0,31.5]),
 (2.98,[.9,1.4,2.3,3.2,4.0,4.9,5.9,6.9,8.0,9.2,10.5,11.8,13.2,14.6,16.1,17.6,19.0,20.6,22.2,23.8,25.5,27.3,29.0,30.7,32.2]),
 (2.9,[.7,1.2,1.7,2.6,3.5,4.4,5.3,6.3,7.4,8.6,9.9,11.2,12.6,14.0,15.5,17.0,18.5,20.0,21.6,23.2,24.9,26.7,28.5,30.3,31.9,33.2]),
 (2.82,[1.0,1.5,2.1,3.0,3.9,4.8,5.8,6.8,8.0,9.3,10.6,12.0,13.4,14.9,16.4,17.9,19.4,21.0,22.6,24.3,26.1,28.0,29.8,31.5,33.0,34.7]),
 (2.74,[.8,1.3,1.8,2.5,3.4,4.3,5.2,6.2,7.3,8.6,9.9,11.3,12.7,14.2,15.7,17.2,18.7,20.3,21.9,23.6,25.4,27.4,29.2,31.0,32.6,34.4,36.0]),
 (2.66,[1.1,1.6,2.2,3.0,3.8,4.7,5.7,6.8,8.0,9.3,10.7,12.1,13.6,15.1,16.6,18.1,19.7,21.3,23.0,24.8,26.6,28.6,30.4,32.2,34.0,35.8,37.1]),
 (2.58,[.9,1.4,2.0,2.7,3.5,4.4,5.3,6.4,7.6,8.9,10.2,11.6,13.0,14.5,16.0,17.5,19.0,22.3,24.2,26.0,28.0,29.8,31.7,33.5,35.3,37.6,39.0]),
 (2.5,[1.2,1.8,2.4,3.2,4.1,5.0,6.1,7.3,8.6,9.9,11.2,12.6,14.0,15.5,17.0,18.5,22.0,24.0,27.3,29.2,31.2,33.1,35.0,37.0,39.5,41.0]),
 (2.42,[1.3,2.0,2.9,3.8,4.8,5.8,7.0,8.2,9.6,11.0,12.4,13.8,15.3,16.8,18.4,25.0,26.0,28.7,30.6,32.6,34.6,36.4,38.4,40.0,42.4]),
 (2.34,[1.5,2.4,3.4,4.4,5.5,6.7,8.0,9.3,10.7,12.2,13.6,15.2,16.9,19.0,24.5,26.5,30.0,32.0,34.0,36.0,38.0,39.6,41.5,43.0]),
 (2.26,[1.8,3.0,5.6,7.0,8.4,9.8,11.2,12.8,14.4,16.0,18.2,19.0,25.7,31.5,33.5,37.0,38.7,40.5]),
 (2.18,[3.0,5.4,6.8,8.4,9.9,11.4,13.0,14.6,16.5,17.0,18.0,27.0,30.2,34.2,35.7,38.0,39.8,42.5,44.5,46.2]),
 (2.1,[5.3,8.2,9.6,11.0,12.4,13.6,15.0,16.6,18.3,19.5,21.0,26.0,30.9,36.6,39.0,41.3,43.0,44.5,45.6]),
 (2.02,[.8,1.5,5.3,7.2,9.8,11.1,12.6,14.0,15.3,16.5,18.0,19.5,21.3,27.6,30.8,36.0,37.5,42.0,43.0,44.3,45.5,47.5,49.0,50.3]),
 (1.94,[.8,1.2,8.5,13.0,15.0,16.5,18.5,20.0,21.8,23.0,30.2,34.5,37.0,38.0,41.0,42.2,46.3,47.6,49.8]),
 (1.85,[.9,1.6,19.8,21.0,22.5,23.8,25.3,27.0,28.5,30.5,31.7,35.0,36.8,38.0,39.5,44.0,45.0,47.0,48.5,50.6]),
 (1.78,[1.0,1.6,23.0,24.0,25.0,26.2,27.5,29.5,31.0,32.0,37.4,38.8,40.0,42.0,44.9,47.0,48.9,51.2]),
 (1.7,[1.1,2.0,22.2,23.3,27.6,29.0,30.2,33.0,33.6,35.0,36.4,39.0,40.6,46.0,48.0,49.5,50.6]),
 (1.6,[1.2,2.2,22.8,29.6,31.0,33.6,35.0,37.5,38.7,40.5,43.5,44.6,46.6,48.0,50.0]),
 (1.52,[1.0,2.0,21.5,22.8,28.5,30.0,31.2,34.6,37.2,38.2,41.0,44.0,47.0,49.0,50.8]),
 (1.4,[.9,1.7,22.8,32.5,35.5,36.2,39.0,41.2,42.5,44.0,46.0,48.6]),
 (1.28,[.8,3.0,2.5,34.8,36.8,40.0,41.5,43.8,45.2,46.8,48.8,50.0]),(1.18,[.9,1.4,35.9,42.0,44.5,47.2,49.3]),(1.08,[.8,1.5,2.2,43.5,45.0,48.0,49.5]),(.98,[1.2,40.5,44.5,46.8,49.0])]

# extra hand-read circles in the dense middle, off the rows above
b_mid_extra = [(1.5,3.58),(2.7,3.5),(3.9,3.6),(5.2,3.42),(6.6,3.56),(8.0,3.34),(9.2,3.5),(11.0,3.26),(12.4,3.42),(14.0,3.18),(15.4,3.34),(16.8,3.1),(18.4,3.26),(20.0,3.02),(21.4,3.18),(23.0,2.94),(24.6,3.1),(26.4,2.86),(28.0,3.02),(29.7,2.78),(31.2,2.94),(33.0,2.62),(1.7,3.18),(2.8,3.02),(4.2,3.26),(5.6,3.1),(7.0,2.94),(8.4,3.18),(9.9,2.86),(11.2,3.1),(12.8,2.78),(14.2,3.02),(15.7,2.7),(17.4,2.94),(19.0,2.62),(20.6,2.86),(22.2,2.54),(23.7,2.78),(25.6,2.7),(27.2,2.54),(29.0,2.62),(30.8,2.46),
 (1.4,2.78),(2.7,2.62),(4.0,2.86),(5.4,2.7),(6.8,2.54),(8.2,2.78),(9.6,2.46),(11.0,2.7),(12.4,2.38),(14.2,2.62),(15.8,2.46),(17.4,2.3),(1.6,2.38),(2.8,2.22),(4.3,2.46),(5.8,2.3),(7.4,2.4),(36.0,2.46),(38.2,2.3),(40.2,2.38),(41.8,2.22),(43.8,2.1),(45.2,1.9),(47.2,1.72),(49.5,1.45),(32.5,2.3),(34.6,2.46)]

b_bottom_rows = [(.25,[53.5,54.8,56.2,57.4,58.8,60]),(.12,[56.2,57.4,58.8,60]),(.04,[52.4]),
 (.23,[13.6,14.7,15.6,16.4,17.3,18,19,20,23,24,25,26,27,28,29,30,31,32,34,35,37,39,49.7]),
 (.33,[22.5,23.6,24.8,25.8,26.2,28,29.5,33.6]),(.4,[26.6]),
 (.19,[21,22,23,24,24.6,25.3,26,26.7,27.4,28,29,29.8,30.6,31.3,32,33]),
 (.14,[18,19,20,21,21.7,22.4,23,23.7,24.3,25,25.7,26.4,27,27.7,28.4,29,29.7,30.4,31,32,33,34,35,36,37,38,39,40,41,42,43,44]),
 (.09,[30,31,32,33,34,35,35.8,36.5,37.2,38,38.7,39.4,40,40.8,41.5,42.2,43,43.5]),
 (.13,[45.5,47,48,49,50,43.7]),(.04,[30,31.5,33,35,36,37,38,38.5,39,39.5,41.5,52]),(.0,[38.5])]

b_lower = [(0,0),(1.6,1.01),(1.7,.84),(2.7,1.05),(3.3,1.06),(4.3,.95),(5.3,.87),(5.8,.86),(6.7,.83),(8,.97),(8.8,.87),(9.9,.86),(10.9,.84),(11.7,.84),(12.6,.73),(13.6,.78),(14.6,.78),(15.8,.69),(16.9,.87),(18.1,.92),(19.3,1.05),(20.4,.9),(21.6,.78),(22.8,.7),(24,.78),(25.2,.8),(25.2,.7),(26.3,.59),(27.6,.5),(28.8,.56),(30,.48),(32.4,.43),(33.6,.37),(33.7,.33),
 (2.1,1.56),(2.7,1.42),(3,1.33),(3.5,1.2),(6.6,1.11),(7.3,1.34),(8.2,1.33),(8.9,1.25),(9.9,1.14),(10.7,1.08),(11.5,1.08),(12.3,1.08),(13.6,1.2),(14.7,1.22),(15.8,1.01),(10.8,1.51),(18,1.43),(20.4,1.3),(20.4,1.15),(24,1.08),(26.3,1.08),(27.6,.99),(27.6,.92),(31.2,.89),(32.4,.86),(36,.8),(36,.98),(36,1.2),(36,1.17),(37.2,.43),(37.2,.44),(37.2,.42),(39.7,.93),(41,.99),(46,.93),(51,.69),(48.4,.36),(49.7,.39),
 (5.8,1.75),(6.6,1.67),(5.3,1.95),(7.2,1.99),(15.8,1.77),(16.9,1.77),(9.9,1.95),(26.3,1.48),(18.6,.82),(17.6,.86),(19.0,.95),
 (11.7,.2),(12.6,.39),(16.9,.37),(18,.49)]

b_tail = [(60,1.93),(61.4,1.76),(58.8,1.88),(57.5,1.85),(56.2,1.8),(56.2,1.73),(54.9,1.85),(53.5,1.89),(52.4,1.77),(53.5,1.47),(52.4,1.3),(58.8,1.3),(62.7,1.21),(64,1.14),(60,1.14),(60,1.11),(65.4,1.02),(56.2,1.16),(56.2,1.01),(57.4,.91),(57.6,.9),(64,.94),(66.6,.87),(68,.87),(62.7,.81),(61.4,.74),(58.8,.72),(57.4,.8),(53.6,.97),(54.9,1.01),(54.8,.75),(56.2,.64),(58.8,.65),(66.7,.71),(69.4,.7),(65.4,.65),(64,.6),(62.7,.57),(61.4,.56),(60,.5),(58.8,.45),(57.4,.45),(65.4,.56),(66.6,.49),(68,.45),(68,.39),(69.4,.45),(70.9,.45),(72.2,.35),(72.2,.3),(73.6,.41),(73.6,.23),(75,.75),(75,.2),(76.3,.57),(76.3,.2),(77.7,.14),(77.7,.04),(79,.12),(79,.01),(80.6,.56),(80.6,.01),(82,.58),(82,.01),(83.4,.4),(83.4,.02),(84.9,.31),(84.9,.04),(86.2,.19),(87.8,0),(89.2,.26),(90.6,.33),(92.1,.58),(93.7,.47),(95,.27),(96.5,.33),(98.1,.44),(99.6,.55),(101.1,.36),(102.6,.3),(104.1,.17),(105.6,0),(69.4,.2)]


def from_pairs(*groups):
    xs, ys = [], []
    for g in groups:
        for x, y in g:
            xs.append(x)
            ys.append(y)
    return xs, ys


def from_rows(*groups):
    xs, ys = [], []
    for g in groups:
        for y, row in g:
            for x in row:
                xs.append(x)
                ys.append(y)
    return xs, ys


a_xp, a_yp = from_pairs(a_upper, a_band, a_lower, a_tail, a_mid_extra, a_dark)
a_xr, a_yr = from_rows(a_top_rows, a_mid_rows, a_lobe_rows, a_bottom_rows)
b_xp, b_yp = from_pairs(b_upper, b_band, b_lower, b_tail, b_mid_extra, b_dark)
b_xr, b_yr = from_rows(b_top_rows, b_mid_rows, b_bottom_rows)

MARK = dict(symbol="circle-open", size=24, color="rgba(5,5,5,0.92)", line=dict(color="rgba(5,5,5,0.92)", width=2))
RED = dict(color="#f00000", width=6, shape="spline", smoothing=0.9)
AX = "#4a4a4a"
FONT = "Liberation Sans, Arial, sans-serif"
TXT = "#3a3a3a"

fig = go.Figure()
for x, y, xa, ya in [(a_xp + a_xr, a_yp + a_yr, "x", "y"),
                     (b_xp + b_xr + b_col_x + b_col2_x + b_col3_x, b_yp + b_yr + b_col_y + b_col2_y + b_col3_y, "x2", "y2")]:
    fig.add_trace(go.Scatter(x=x, y=y, mode="markers", marker=MARK, xaxis=xa, yaxis=ya, cliponaxis=False, showlegend=False))
fig.add_trace(go.Scatter(x=a_curve_t, y=a_curve_y, mode="lines", line=RED, xaxis="x", yaxis="y", cliponaxis=False, showlegend=False))
fig.add_trace(go.Scatter(x=b_curve_x, y=b_curve_y, mode="lines", line=RED, xaxis="x2", yaxis="y2", cliponaxis=False, showlegend=False))


def xax(l, r, rng, dt, anchor):
    return dict(domain=[l / W, r / W], range=rng, dtick=dt, tick0=0, ticks="inside", ticklen=13, tickwidth=1.5, tickcolor=AX,
                showline=True, linecolor=AX, linewidth=2, showgrid=False, zeroline=False, anchor=anchor, automargin=False,
                tickfont=dict(family=FONT, size=42, color=TXT))


def yax(top, bot, rng, anchor):
    return dict(domain=[(H - bot) / H, (H - top) / H], range=rng, dtick=1, tick0=0, ticks="inside", ticklen=14, tickwidth=1.5, tickcolor=AX,
                showline=True, linecolor=AX, linewidth=2, showgrid=False, zeroline=False, anchor=anchor, automargin=False,
                tickfont=dict(family=FONT, size=42, color=TXT))


def note(x, y, text, size=48, family=FONT, color=TXT, rot=0):
    return dict(x=x / W, y=1 - y / H, xref="paper", yref="paper", text=text, showarrow=False, textangle=rot,
                xanchor="center", yanchor="middle", font=dict(family=family, size=size, color=color))


fig.update_layout(
    template="none",
    width=W, height=H, margin=dict(l=0, r=0, t=0, b=0, autoexpand=False), paper_bgcolor="white", plot_bgcolor="white", showlegend=False,
    xaxis=xax(143, 1573, [0, 12], 2, "y"), yaxis=yax(49, 1162, [0, 6.9], "x"),
    xaxis2=xax(1760, 3201, [0, 110], 20, "y2"), yaxis2=yax(36, 1149, [0, 6.88], "x2"),
    annotations=[
        note(857, 1278, "time [s]"),
        note(52, 598, "acceleration [m/s<sup>2</sup>]", size=50, rot=-90),
        note(2480, 1265, "Distance [m]"),
        note(1670, 582, "Acceleration [m/s<sup>2</sup>]", size=50, rot=-90),
        note(803, 1366, "(<b>a</b>)", size=50, family="Liberation Serif, serif", color="black"),
        note(2421, 1366, "(<b>b</b>)", size=50, family="Liberation Serif, serif", color="black"),
    ],
)
fig.write_html("out.html", config={"displayModeBar": False},
               post_script="document.body.style.margin='0';document.body.style.overflow='hidden';")
